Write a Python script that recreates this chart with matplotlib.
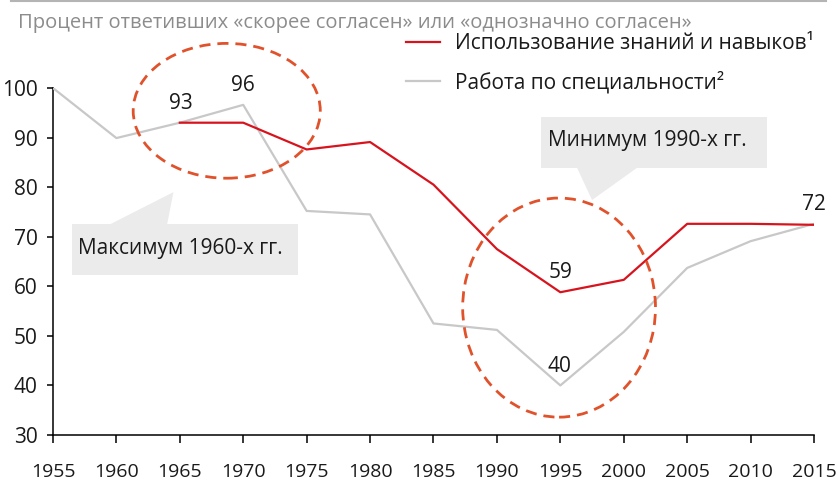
import matplotlib
matplotlib.use("Agg")
import matplotlib.pyplot as plt
from matplotlib.patches import Ellipse, Rectangle, Polygon
from matplotlib.lines import Line2D

plt.rcParams['font.family'] = ['Open Sans', 'DejaVu Sans']

# данные
years = [1955, 1960, 1965, 1970, 1975, 1980, 1985, 1990, 1995, 2000, 2005, 2010, 2015]
skills_years = [1965, 1970, 1975, 1980, 1985, 1990, 1995, 2000, 2005, 2010, 2015]
skills = [93, 93, 87.6, 89.1, 80.5, 67.5, 58.8, 61.3, 72.6, 72.6, 72.4]
specialty = [100, 89.9, 93, 96.6, 75.2, 74.5, 52.5, 51.2, 40.0, 50.8, 63.7, 69.1, 72.6]

label_skills = "Использование знаний и навыков\u00b9"
label_specialty = "Работа по специальности\u00b2"
title = "Процент ответивших «скорее согласен» или «однозначно согласен»"
yticks = [30, 40, 50, 60, 70, 80, 90, 100]

# подписи значений: (год, значение, текст, сдвиг x, сдвиг y в pt)
value_labels = [
    (1965, 93, "93", 1, 14),
    (1970, 96.6, "96", 0, 14),
    (1995, 58.8, "59", 0, 14.5),
    (1995, 40.0, "40", -1, 13.5),
    (2015, 72.4, "72", 0, 14.5),
]

RED = "#d7141e"
GREY = "#c8c8c8"
ORANGE = "#e0522b"
BOX = "#ebebeb"
TXT = "#1a1a1a"

fig = plt.figure(figsize=(8.38, 4.83), dpi=100)
ax = fig.add_axes([0.0632, 0.0994, 0.9714 - 0.0632, 0.8178 - 0.0994])

ax.plot(years, specialty, color=GREY, lw=1.6, label=label_specialty, zorder=3)
ax.plot(skills_years, skills, color=RED, lw=1.6, label=label_skills, zorder=4)

ax.set_xlim(1955, 2015)
ax.set_ylim(30, 100)
ax.set_xticks(years)
ax.set_yticks(yticks)
for s in ['top', 'right']:
    ax.spines[s].set_visible(False)
for s in ['left', 'bottom']:
    ax.spines[s].set_linewidth(1.1)
ax.tick_params(axis='x', length=6, width=1.1, pad=14, labelsize=14, labelcolor=TXT)
ax.tick_params(axis='y', length=4, width=1.1, pad=7, labelsize=15, labelcolor=TXT)

for x, y, t, dx, dy in value_labels:
    ax.annotate(t, (x, y), xytext=(dx, dy), textcoords='offset points',
                ha='center', va='center', fontsize=15, color=TXT, zorder=6)

# выноски
ax.add_patch(Rectangle((1956.5, 62.3), 17.8, 10.3, color=BOX, lw=0, clip_on=False, zorder=1))
ax.add_patch(Polygon([(1959.5, 72.5), (1964.0, 72.5), (1964.5, 79.0)], closed=True,
                     color=BOX, lw=0, clip_on=False, zorder=1))
ax.text(1957.0, 67.6, "Максимум 1960-х гг.", fontsize=15, color=TXT, va='center', ha='left', zorder=2)

ax.add_patch(Rectangle((1993.5, 83.9), 17.8, 10.2, color=BOX, lw=0, clip_on=False, zorder=1))
ax.add_patch(Polygon([(1996.3, 84.0), (2001.1, 84.0), (1997.5, 77.4)], closed=True,
                     color=BOX, lw=0, clip_on=False, zorder=1))
ax.text(1994.0, 89.5, "Минимум 1990-х гг.", fontsize=15, color=TXT, va='center', ha='left', zorder=2)

# пунктирные эллипсы
for cx, cy, w, h in [(1968.7, 95.4, 14.75, 27.2), (1994.9, 55.7, 15.2, 44.2)]:
    ax.add_patch(Ellipse((cx, cy), w, h, fill=False, ec=ORANGE, lw=2, ls=(0, (4, 2.5)),
                         clip_on=False, zorder=5))

# заголовок и линия сверху
fig.add_artist(Line2D([11 / 838, 826 / 838], [0.998, 0.998], color="#b4b4b4", lw=1.5))
fig.text(18 / 838, 1 - 23 / 483, title, fontsize=14.5, color="#8c8c8c", va='center', ha='left')

leg = ax.legend(loc='upper left', bbox_to_anchor=(406 / 838, 1 - 33 / 483),
                bbox_transform=fig.transFigure, frameon=False, fontsize=15,
                handlelength=1.65, handletextpad=0.7, labelspacing=0.82,
                borderpad=0, borderaxespad=0, reverse=True)
for t in leg.get_texts():
    t.set_color(TXT)

fig.savefig("out.png", dpi=100)
